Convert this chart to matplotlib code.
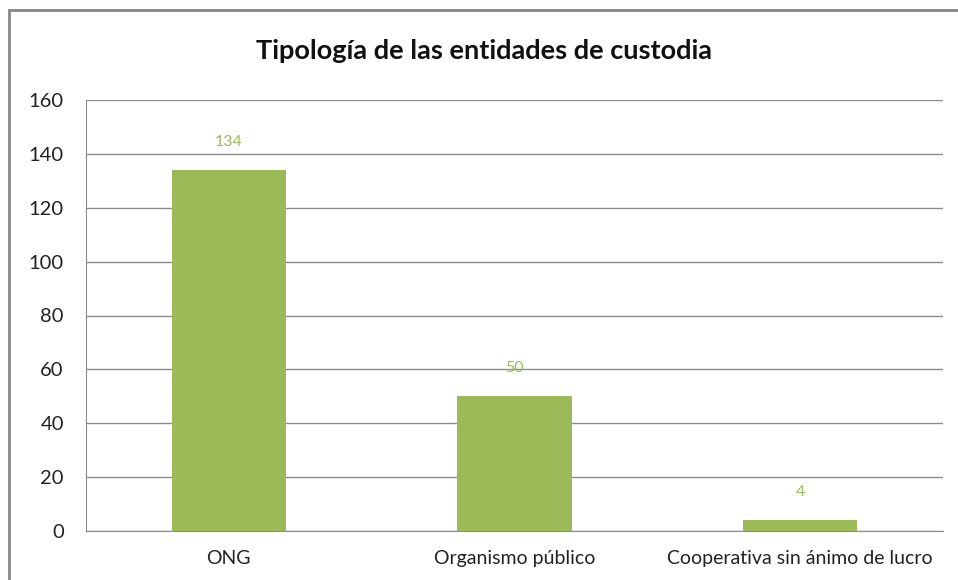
import matplotlib
matplotlib.use("Agg")
import matplotlib.pyplot as plt
from matplotlib.patches import Rectangle

# data
categories = ["ONG", "Organismo público", "Cooperativa sin ánimo de lucro"]
values = [134, 50, 4]
yticks = [0, 20, 40, 60, 80, 100, 120, 140, 160]

GREEN = "#9BBB59"
GRID = "#8C8C8C"

plt.rcParams["font.family"] = ["Lato", "DejaVu Sans"]

fig = plt.figure(figsize=(9.58, 5.8), dpi=100)
ax = fig.add_axes([86 / 958, 1 - 531 / 580, (943 - 86) / 958, (531 - 100) / 580])

x = range(len(categories))
bars = ax.bar(x, values, width=0.4, color=GREEN, zorder=3)

for xi, v in zip(x, values):
    ax.annotate(str(v), (xi, v), xytext=(0, 15), textcoords="offset points",
                ha="center", va="bottom", color=GREEN, fontsize=11.5)

ax.set_xlim(-0.5, len(categories) - 0.5)
ax.set_ylim(0, 160)
ax.set_yticks(yticks)
ax.set_xticks(list(x))
ax.set_xticklabels(categories, fontsize=14)
ax.tick_params(axis="y", length=0, pad=16, labelsize=14.5, labelcolor="#222222")
ax.tick_params(axis="x", length=0, pad=14, labelcolor="#222222")
ax.grid(axis="y", color=GRID, linewidth=1, zorder=0)

for side in ["top", "right"]:
    ax.spines[side].set_visible(False)
ax.spines["left"].set_color(GRID)
ax.spines["bottom"].set_color(GRID)

fig.text(0.505, 1 - 51 / 580, "Tipología de las entidades de custodia",
         ha="center", va="center", fontsize=19.5, fontweight="bold", color="#111111")

# chart frame (only left and top edges fall inside the image)
top = 1 - 10 / 580
fig.add_artist(Rectangle((9 / 958, -0.1), 1.2, top + 0.1,
                         transform=fig.transFigure, fill=False,
                         edgecolor="#868686", linewidth=2))

fig.savefig("out.png", dpi=100)
